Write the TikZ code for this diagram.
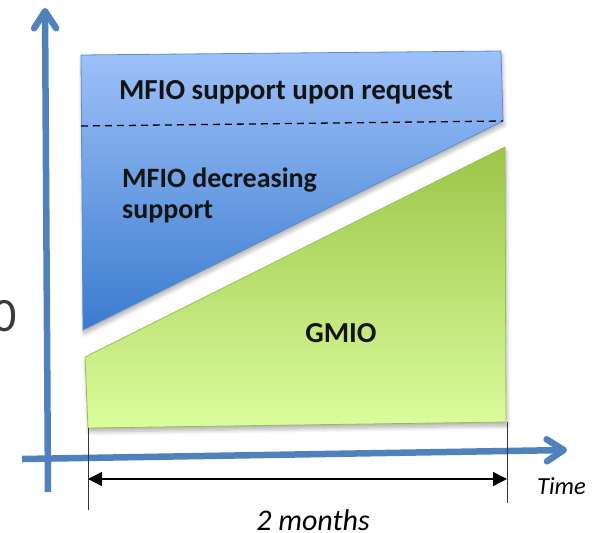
\documentclass[tikz,border=0pt]{standalone}
\usepackage{fontspec}
\setmainfont{Carlito}
\usetikzlibrary{arrows.meta,shadows.blur}

\definecolor{axisblue}{HTML}{4F81BD}
\definecolor{bluetop}{HTML}{9EC1F9}
\definecolor{bluemid}{HTML}{82AAE9}
\definecolor{bluebot}{HTML}{3A7BCE}
\definecolor{blueedge}{HTML}{5A8BD2}
\definecolor{greentop}{HTML}{9CC548}
\definecolor{greenmid}{HTML}{C8E783}
\definecolor{greenbot}{HTML}{DBFD9D}
\definecolor{greenedge}{HTML}{9BBB59}
\definecolor{zerogray}{HTML}{3A3A3A}

\tikzset{
  softshadow/.style={blur shadow={shadow xshift=1pt,shadow yshift=-4pt,
      shadow blur steps=8,shadow blur radius=4pt,shadow opacity=30}},
  axisline/.style={draw=axisblue,line width=6.5pt,
      -{Straight Barb[length=17pt,width=22pt,round]}},
  dimtick/.style={draw=black!80,line width=1pt},
  dimarrow/.style={draw=black,line width=1.4pt,
      {Triangle[length=14pt,width=14pt]}-{Triangle[length=14pt,width=14pt]}},
  bandlabel/.style={font=\bfseries\fontsize{28}{32}\selectfont,text=black!92,inner sep=0pt},
  axislabel/.style={font=\itshape\fontsize{24.5}{28}\selectfont,text=black,inner sep=0pt},
}

\begin{document}
\begin{tikzpicture}[x=1pt,y=-1pt]
\useasboundingbox (0,0) rectangle (600,533);

% corner points of the two bands
\coordinate (btl) at (81,55);
\coordinate (btr) at (501,51);
\coordinate (bbr) at (503,121);
\coordinate (bbl) at (83,330);
\coordinate (dl)  at (81,126);
\coordinate (gtl) at (85,357);
\coordinate (gtr) at (505,147);
\coordinate (gbr) at (506,422);
\coordinate (gbl) at (88,428);

% MFIO band
\path[softshadow,draw=blueedge,line width=0.8pt,
      top color=bluetop,middle color=bluemid,bottom color=bluebot]
  (btl) -- (btr) -- (bbr) -- (bbl) -- cycle;
\draw[black,line width=1.3pt,dash pattern=on 7pt off 5pt] (dl) -- (bbr);

% GMIO band
\path[softshadow,draw=greenedge,line width=0.8pt,
      top color=greentop,middle color=greenmid,bottom color=greenbot]
  (gtl) -- (gtr) -- (gbr) -- (gbl) -- cycle;

% axes
\coordinate (yb) at (48,492);
\coordinate (yt) at (45,8);
\coordinate (xl) at (22,459);
\coordinate (xr) at (567,450);
\draw[axisline] (yb) -- (yt);
\draw[axisline] (xl) -- (xr);

% duration marker
\coordinate (tl1) at (88,428);
\coordinate (tl2) at (88,510);
\coordinate (tr1) at (507,422);
\coordinate (tr2) at (507,503);
\draw[dimtick] (tl1) -- (tl2);
\draw[dimtick] (tr1) -- (tr2);
\coordinate (al) at (88,479);
\coordinate (ar) at (507,479);
\draw[dimarrow] (al) -- (ar);

% labels
\node[bandlabel,font=\bfseries\fontsize{29}{33}\selectfont,anchor=base] (req) at (286,99) {MFIO support upon request};
\node[bandlabel,anchor=base west,align=left] (dec1) at (122,187) {MFIO decreasing};
\node[bandlabel,anchor=base west,align=left] (dec2) at (122,218) {support};
\node[bandlabel,font=\bfseries\fontsize{29}{33}\selectfont,anchor=base] (gmio) at (341,342) {GMIO};
\node[axislabel,anchor=base west] (time) at (537,494) {Time};
\node[axislabel,font=\itshape\fontsize{30}{34}\selectfont,anchor=base] (dur) at (313,530) {2 months};
\node[inner sep=0pt,anchor=base east,text=zerogray,font=\fontsize{48}{50}\selectfont] (zero) at (17,331) {0};
\end{tikzpicture}
\end{document}
